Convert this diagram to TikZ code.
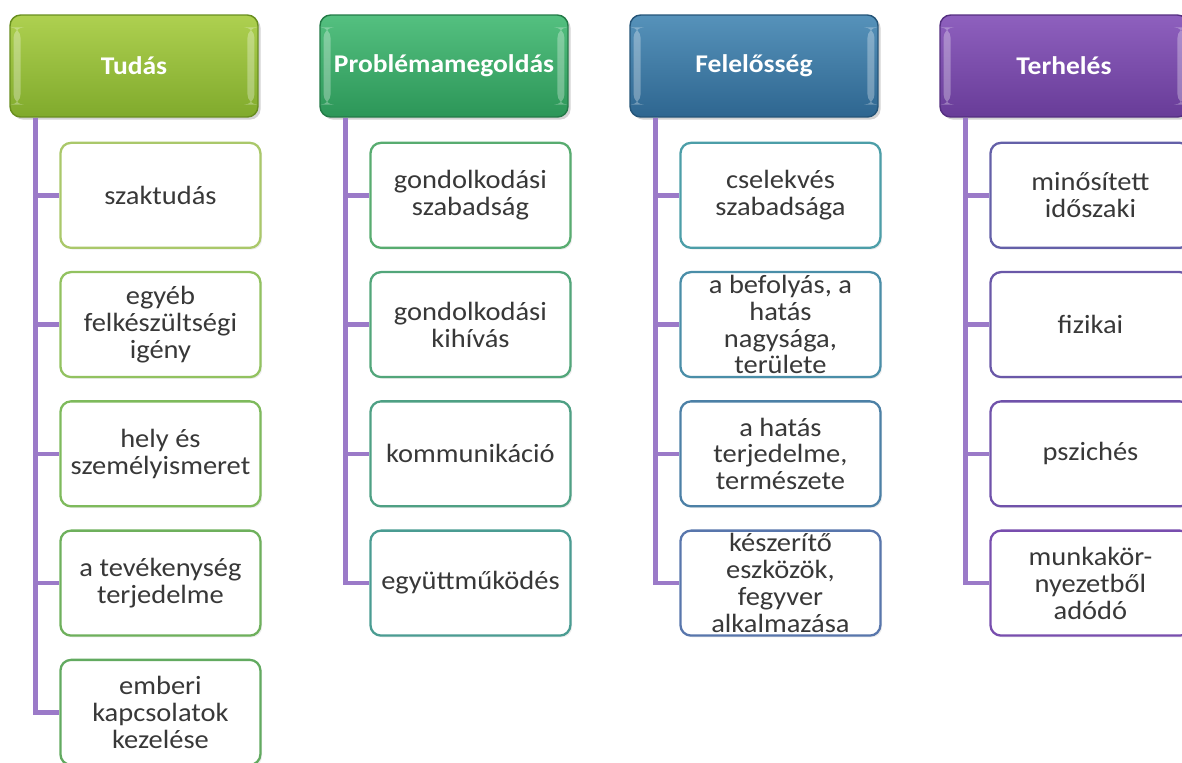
\documentclass[tikz,border=0pt]{standalone}
\usepackage{fontspec}
\setmainfont{Carlito}[FakeStretch=1.08]
\usepackage{xcolor}
\usepackage{tikz}
\usetikzlibrary{positioning,shadows}
\definecolor{branchline}{RGB}{155,122,200}
\definecolor{leafText}{RGB}{56,56,56}
\definecolor{tudTop}{RGB}{174,208,80}
\definecolor{tudBot}{RGB}{128,170,44}
\definecolor{tudEdge}{RGB}{104,142,30}
\definecolor{proTop}{RGB}{84,192,128}
\definecolor{proBot}{RGB}{44,150,88}
\definecolor{proEdge}{RGB}{34,122,70}
\definecolor{felTop}{RGB}{86,146,186}
\definecolor{felBot}{RGB}{46,102,144}
\definecolor{felEdge}{RGB}{36,84,120}
\definecolor{terTop}{RGB}{142,96,190}
\definecolor{terBot}{RGB}{104,60,152}
\definecolor{terEdge}{RGB}{84,46,128}
\newcommand{\leaffont}{\fontsize{15}{15.3}\selectfont\setlength{\lineskiplimit}{-10pt}}
\tikzset{
  head/.style={rounded corners=6pt, line width=0.8pt, minimum width=4.96cm, minimum height=2.04cm,
    inner sep=1pt, text=white, font=\fontsize{14.5}{16}\selectfont\bfseries,
    drop shadow={opacity=0.35, shadow xshift=1.5pt, shadow yshift=-1.5pt},
    path picture={
      \fill[white, opacity=0.3] ([xshift=2pt, yshift=7pt]path picture bounding box.south west)
        rectangle ([xshift=6pt, yshift=-7pt]path picture bounding box.north west);
      \fill[white, opacity=0.3] ([xshift=-6pt, yshift=7pt]path picture bounding box.south east)
        rectangle ([xshift=-2pt, yshift=-7pt]path picture bounding box.north east);
    }},
  tudHead/.style={head, draw=tudEdge, top color=tudTop, bottom color=tudBot},
  proHead/.style={head, draw=proEdge, top color=proTop, bottom color=proBot},
  felHead/.style={head, draw=felEdge, top color=felTop, bottom color=felBot},
  terHead/.style={head, draw=terEdge, top color=terTop, bottom color=terBot},
  leaf/.style={rounded corners=6pt, fill=white, line width=1.3pt, minimum width=4cm, minimum height=2.1cm,
    inner xsep=1pt, inner ysep=0pt, align=center, text=leafText, font=\leaffont,
    drop shadow={opacity=0.15, shadow xshift=1pt, shadow yshift=-1pt}},
  branch/.style={draw=branchline, line width=2.6pt}
}

\begin{document}
\begin{tikzpicture}[x=0.02cm, y=-0.02cm]
  \clip (0,0) rectangle (1182,762);

  % Tudás
  \node[tudHead] (tud) at (134,66) {Tudás};
  \node[leaf, draw={rgb,255:red,170;green,200;blue,106}, below right=0.48cm and 1cm of tud.south west] (tud1) {szaktudás};
  \node[leaf, draw={rgb,255:red,146;green,194;blue,96}, below=0.44cm of tud1] (tud2) {egyéb\\felkészültségi\\igény};
  \node[leaf, draw={rgb,255:red,126;green,186;blue,92}, below=0.44cm of tud2] (tud3) {hely és\\személyismeret};
  \node[leaf, draw={rgb,255:red,110;green,176;blue,92}, below=0.44cm of tud3] (tud4) {a tevékenység\\terjedelme};
  \node[leaf, draw={rgb,255:red,98;green,170;blue,96}, below=0.44cm of tud4] (tud5) {emberi\\kapcsolatok\\kezelése};

  % Problémamegoldás
  \node[proHead] (pro) at (444,66) {Problémamegoldás};
  \node[leaf, draw={rgb,255:red,88;green,172;blue,112}, below right=0.48cm and 1cm of pro.south west] (pro1) {gondolkodási\\szabadság};
  \node[leaf, draw={rgb,255:red,82;green,166;blue,122}, below=0.44cm of pro1] (pro2) {gondolkodási\\kihívás};
  \node[leaf, draw={rgb,255:red,78;green,160;blue,132}, below=0.44cm of pro2] (pro3) {kommunikáció};
  \node[leaf, draw={rgb,255:red,74;green,156;blue,146}, below=0.44cm of pro3] (pro4) {együttműködés};

  % Felelősség
  \node[felHead] (fel) at (754,66) {Felelősség};
  \node[leaf, draw={rgb,255:red,76;green,158;blue,168}, below right=0.48cm and 1cm of fel.south west] (fel1) {cselekvés\\szabadsága};
  \node[leaf, draw={rgb,255:red,74;green,142;blue,168}, below=0.44cm of fel1] (fel2) {a befolyás, a\\hatás\\nagysága,\\területe};
  \node[leaf, draw={rgb,255:red,76;green,128;blue,166}, below=0.44cm of fel2] (fel3) {a hatás\\terjedelme,\\természete};
  \node[leaf, draw={rgb,255:red,88;green,118;blue,172}, below=0.44cm of fel3] (fel4) {készerítő\\eszközök,\\fegyver\\alkalmazása};

  % Terhelés
  \node[terHead] (ter) at (1064,66) {Terhelés};
  \node[leaf, draw={rgb,255:red,100;green,96;blue,168}, below right=0.48cm and 1cm of ter.south west] (ter1) {minősített\\időszaki};
  \node[leaf, draw={rgb,255:red,106;green,88;blue,168}, below=0.44cm of ter1] (ter2) {fizikai};
  \node[leaf, draw={rgb,255:red,112;green,82;blue,170}, below=0.44cm of ter2] (ter3) {pszichés};
  \node[leaf, draw={rgb,255:red,120;green,78;blue,174}, below=0.44cm of ter3] (ter4) {munkakör-\\nyezetből\\adódó};

  % connectors
  \foreach \leafname in {tud1,tud2,tud3,tud4,tud5}
    \draw[branch] ([xshift=0.52cm]tud.south west) |- (\leafname.west);
  \foreach \leafname in {pro1,pro2,pro3,pro4}
    \draw[branch] ([xshift=0.52cm]pro.south west) |- (\leafname.west);
  \foreach \leafname in {fel1,fel2,fel3,fel4}
    \draw[branch] ([xshift=0.52cm]fel.south west) |- (\leafname.west);
  \foreach \leafname in {ter1,ter2,ter3,ter4}
    \draw[branch] ([xshift=0.52cm]ter.south west) |- (\leafname.west);
\end{tikzpicture}
\end{document}
